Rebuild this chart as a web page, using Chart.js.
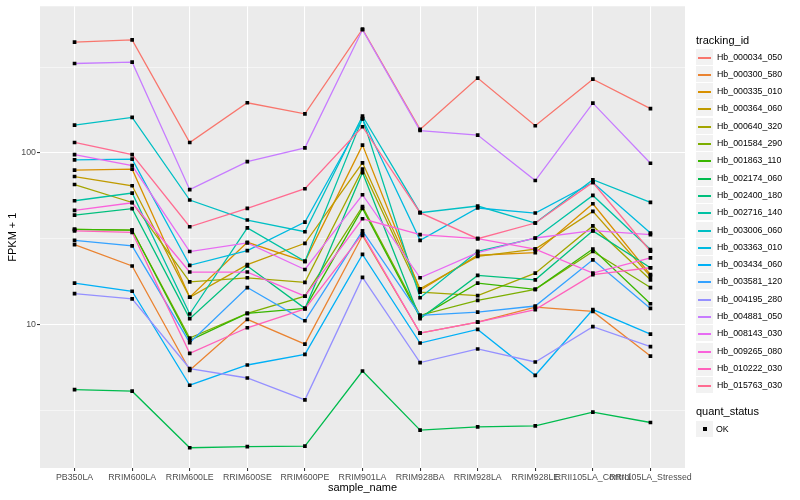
<!DOCTYPE html>
<html>
<head>
<meta charset="utf-8">
<script src="https://cdn.jsdelivr.net/npm/chart.js@4"></script>
<style>
body{margin:0;background:#fff;font-family:"Liberation Sans",Arial,sans-serif;}
#wrap{position:relative;width:800px;height:500px;}
#legend{position:absolute;left:696px;top:0;width:104px;height:500px;}
.ttl{position:absolute;left:0;font-size:11px;line-height:13px;color:#000;white-space:nowrap;}
.key{position:absolute;left:0;width:17px;height:16px;background:#f2f2f2;}
.key i{position:absolute;left:2px;right:2px;top:8px;height:1.5px;}
.key b{position:absolute;left:7px;top:6px;width:4px;height:4px;background:#000;}
.lab{position:absolute;left:21px;font-size:8.8px;line-height:10px;color:#000;white-space:nowrap;}
</style>
</head>
<body>
<div id="wrap">
<canvas id="chart" width="800" height="500"></canvas>
<div id="legend"></div>
</div>
<script>

const categories = ["PB350LA","RRIM600LA","RRIM600LE","RRIM600SE","RRIM600PE","RRIM901LA","RRIM928BA","RRIM928LA","RRIM928LE","RRII105LA_Control","RRII105LA_Stressed"];

const trackingIds = ["Hb_000034_050","Hb_000300_580","Hb_000335_010","Hb_000364_060","Hb_000640_320","Hb_001584_290","Hb_001863_110","Hb_002174_060","Hb_002400_180","Hb_002716_140","Hb_003006_060","Hb_003363_010","Hb_003434_060","Hb_003581_120","Hb_004195_280","Hb_004881_050","Hb_008143_030","Hb_009265_080","Hb_010222_030","Hb_015763_030"];

/* FPKM + 1, one array per tracking_id, in category order */
const hb000034 = [442, 456, 115, 196, 169, 526, 137, 273, 144, 269, 181];
const hb000300 = [29.2, 21.9, 5.40, 10.7, 7.68, 33.0, 8.90, 10.3, 12.6, 11.9, 6.54];
const hb000335 = [79.3, 80.4, 14.4, 30.1, 23.3, 111, 15.8, 25.3, 26.2, 50.5, 19.5];
const hb000364 = [72.8, 64.3, 14.4, 22.3, 29.7, 87.5, 16.1, 24.9, 27.5, 45.6, 19.1];
const hb000640 = [65.4, 51.4, 17.7, 18.7, 17.6, 80.4, 15.4, 14.7, 19.9, 37.5, 18.2];
const hb001584 = [35.8, 35.5, 8.33, 11.6, 14.6, 48.7, 11.3, 13.8, 16.0, 26.6, 16.4];
const hb001863 = [35.8, 35.5, 8.07, 11.6, 12.4, 47.5, 11.0, 17.4, 16.0, 27.5, 13.2];
const hb002174 = [4.17, 4.08, 1.91, 1.94, 1.95, 5.35, 2.42, 2.53, 2.56, 3.08, 2.68];
const hb002400 = [43.4, 47.3, 10.8, 21.9, 12.4, 76.8, 10.8, 19.3, 18.2, 35.1, 21.4];
const hb002716 = [52.6, 58.3, 11.5, 36.5, 23.3, 159, 14.3, 26.7, 31.8, 56.5, 27.3];
const hb003006 = [145, 161, 53.1, 40.6, 34.7, 164, 44.8, 49.0, 39.0, 69.7, 51.4];
const hb003363 = [91.0, 91.9, 22.1, 26.9, 39.5, 158, 30.9, 47.7, 44.6, 67.2, 34.1];
const hb003434 = [17.4, 15.6, 4.42, 5.80, 6.69, 25.6, 7.79, 9.35, 5.05, 12.2, 8.78];
const hb003581 = [30.9, 28.7, 7.83, 16.4, 10.5, 35.1, 11.3, 11.8, 12.8, 23.8, 12.4];
const hb004195 = [15.1, 14.1, 5.53, 4.87, 3.63, 18.8, 5.99, 7.19, 6.04, 9.70, 7.42];
const hb004881 = [332, 338, 61, 89, 107, 522, 135, 127, 69, 195, 87];
const hb008143 = [97.8, 84.4, 26.6, 29.9, 20.9, 57.0, 18.7, 26.2, 31.9, 35.2, 33.4];
const hb009265 = [46.2, 51.2, 20.2, 20.2, 14.6, 41.3, 33.4, 31.6, 27.5, 19.9, 24.4];
const hb010222 = [35.1, 34.4, 6.78, 9.56, 12.3, 33.7, 8.90, 10.3, 12.2, 19.5, 21.4];
const hb015763 = [115, 97.8, 37.1, 47.5, 61.8, 142, 44.8, 31.6, 39.0, 67.2, 26.7];

const series = [hb000034,hb000300,hb000335,hb000364,hb000640,hb001584,hb001863,hb002174,hb002400,hb002716,hb003006,hb003363,hb003434,hb003581,hb004195,hb004881,hb008143,hb009265,hb010222,hb015763];

const yLabelTicks = [10, 100];
const yMinorTicks = [3.162, 31.62, 316.2];
const yMin = 1.455;
const yMax = 715.6;

const palette = ["#F8766D","#EA8331","#D89000","#C09B00","#A3A500","#7CAE00","#39B600","#00BB4E","#00BF7D","#00C1A3","#00BFC4","#00BAE0","#00B0F6","#35A2FF","#9590FF","#C77CFF","#E76BF3","#FA62DB","#FF62BC","#FF6C91"];

Chart.defaults.font.family = '"Liberation Sans", Arial, sans-serif';

/* DATASETS */

const datasets = series.map((s,i)=>({
label: trackingIds[i],
data: s.map((v,j)=>({x:j,y:v})),
borderColor: palette[i],
borderWidth: 1.3,
pointRadius: 0,
tension: 0,
fill: false,
order: 40 - i
}));

datasets.push({
label: "OK",
data: series.flatMap(s=>s.map((v,j)=>({x:j,y:v}))),
showLine: false,
pointStyle: "rect",
pointRadius: 2.6,
pointBackgroundColor: "#000",
pointBorderWidth: 0,
order: 0
});

const isMajor = v => yLabelTicks.includes(v);

const panelBg = {
id: "panelBg",
beforeDraw(chart){
const a = chart.chartArea;
const c = chart.ctx;
c.save();
c.fillStyle = "#EBEBEB";
c.fillRect(a.left, a.top, a.right - a.left, a.bottom - a.top);
c.restore();
}
};

new Chart(document.getElementById("chart"),{
type: "line",
data: { datasets },
plugins: [panelBg],
options: {
responsive: false,
animation: false,
layout: { padding: { top: 5, right: 115, bottom: 0, left: 0 } },
plugins: { legend: { display: false }, tooltip: { enabled: false } },
scales: {
x: {
type: "linear",
min: -0.6,
max: 10.6,
afterBuildTicks: s => { s.ticks = categories.map((c,i)=>({value:i})); },
afterFit: s => { s.height = 32; },
ticks: {
callback: v => categories[v],
autoSkip: false,
maxRotation: 0,
minRotation: 0,
padding: 1,
color: "#4D4D4D",
font: { size: 8.8 }
},
grid: { color: "#fff", lineWidth: 1.07, tickColor: "#333", tickLength: 3 },
border: { display: false },
title: { display: true, text: "sample_name", color: "#000", font: { size: 11 }, padding: { top: 0, bottom: 5 } }
},
y: {
type: "logarithmic",
min: yMin,
max: yMax,
afterBuildTicks: s => {
s.ticks = yMinorTicks.concat(yLabelTicks).sort((a,b)=>a-b).map(v=>({value:v}));
},
afterFit: s => { s.width = 40; },
ticks: {
callback: v => isMajor(v) ? String(v) : "",
autoSkip: false,
padding: 1,
color: "#4D4D4D",
font: { size: 8.8 }
},
grid: {
color: "#fff",
lineWidth: c => (c.tick && isMajor(c.tick.value)) ? 1.07 : 0.53,
tickColor: c => (c.tick && isMajor(c.tick.value)) ? "#333" : "rgba(0,0,0,0)",
tickLength: 3
},
border: { display: false },
title: { display: true, text: "FPKM + 1", color: "#000", font: { size: 11 }, padding: { top: 6, bottom: 0 } }
}
}
}
});

/* LEGEND */

const legend = document.getElementById("legend");
let html = `<div class="ttl" style="top:34px">tracking_id</div>`;

trackingIds.forEach((id,i)=>{
const top = Math.round(48.5 + i*17.3);
html += `<div class="key" style="top:${top}px"><i style="background:${palette[i]}"></i></div>`;
html += `<div class="lab" style="top:${top+3}px">${id}</div>`;
});

html += `<div class="ttl" style="top:405px">quant_status</div>`;
html += `<div class="key" style="top:421px"><b></b></div>`;
html += `<div class="lab" style="left:20px;top:424px">OK</div>`;

legend.innerHTML = html;

</script>
</body>
</html>
